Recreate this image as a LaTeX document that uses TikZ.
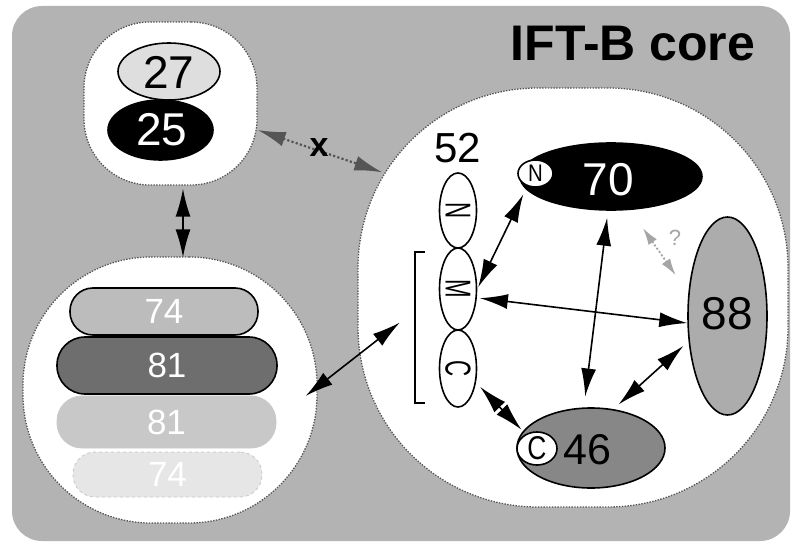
\documentclass[tikz,border=0pt]{standalone}
\usepackage{fontspec}
\usepackage{graphicx}
\setmainfont{Liberation Sans}
\usetikzlibrary{shapes.geometric,arrows.meta,calc}

\definecolor{panel}{RGB}{179,179,179}
\definecolor{rimgray}{RGB}{85,85,85}
\definecolor{xgray}{RGB}{85,85,85}
\definecolor{qgray}{RGB}{165,165,165}
\definecolor{fill27}{RGB}{222,222,222}
\definecolor{fill88}{RGB}{172,172,172}
\definecolor{fill46}{RGB}{135,135,135}
\definecolor{pillA}{RGB}{188,188,188}
\definecolor{pillB}{RGB}{110,110,110}
\definecolor{pillC}{RGB}{200,200,200}
\definecolor{pillD}{RGB}{230,230,230}

\newcommand\fsz[1]{\fontsize{#1}{#1}\selectfont}
\newcommand\domlabel[1]{\rotatebox{-90}{\scalebox{0.62}[1]{#1}}}

\tikzset{
  blob/.style={rectangle, draw=rimgray, fill=white, line width=1.3pt,
    dash pattern=on 1.4pt off 1.4pt, inner sep=0pt},
  ell/.style={ellipse, draw=black, line width=1.6pt, inner sep=0pt},
  pill/.style={rectangle, inner sep=0pt, text=white, font=\fsz{35}},
  txt/.style={inner sep=0pt},
  bigtip/.tip={Latex[length=28pt,width=15pt]},
  dbl/.style={line width=1.6pt, bigtip-bigtip},
  xarr/.style={draw=xgray, line width=2.2pt, dash pattern=on 2.2pt off 2.2pt,
    bigtip-bigtip},
  qarr/.style={draw=qgray, line width=1.8pt, dash pattern=on 2pt off 2pt,
    {Latex[length=17pt,width=10pt]}-{Latex[length=17pt,width=10pt]}},
}

\begin{document}
\begin{tikzpicture}[x=1pt,y=-1pt]
\useasboundingbox (0,0) rectangle (792,543);

% grey panel of the complex
\fill[panel, rounded corners=30pt] (12,6) rectangle (790,541);

\node[txt, font=\bfseries\fsz{50}] (title) at (633,44) {IFT-B core};

% sub-complexes
\node[blob, minimum width=173pt, minimum height=163pt, rounded corners=66pt] (topblob) at (170.5,103.5) {};
\node[blob, minimum width=294pt, minimum height=266pt, rounded corners=128pt] (lowblob) at (170,390) {};
\node[blob, minimum width=430pt, minimum height=419pt, rounded corners=180pt] (rblob) at (573,297.5) {};

% IFT25 / IFT27
\node[ell, fill=black, minimum width=105pt, minimum height=60pt] (n25) at (160.5,130) {};
\node[txt, text=white, font=\fsz{46}] (t25) at (162,130) {25};
\node[ell, fill=fill27, minimum width=102pt, minimum height=57pt] (n27) at (169,71.5) {};
\node[txt, font=\fsz{46}] (t27) at (169,72) {27};

% IFT74 / IFT81 dimers
\node[pill, fill=pillD, draw=pillC, line width=0.8pt, dashed, minimum width=189pt, minimum height=45pt, rounded corners=22pt] (p74b) at (167.5,474.5) {74};
\node[pill, fill=pillC, draw=pillC, line width=0.8pt, minimum width=219pt, minimum height=52pt, rounded corners=25pt] (p81b) at (166.5,422) {81};
\node[pill, fill=pillA, draw=black, line width=1.6pt, minimum width=188pt, minimum height=47pt, rounded corners=23pt] (p74a) at (164,311.5) {74};
\node[pill, fill=pillB, draw=black, line width=1.6pt, minimum width=220pt, minimum height=57pt, rounded corners=28pt] (p81a) at (167,365.5) {81};

% IFT52 domains
\node[txt, font=\fsz{42}] (t52) at (458,148) {52};
\node[ell, fill=white, minimum width=37pt, minimum height=75pt, font=\fsz{36}] (n52) at (458,210.5) {\domlabel{N}};
\node[ell, fill=white, minimum width=37pt, minimum height=82pt, font=\fsz{36}] (m52) at (458,289) {\domlabel{M}};
\node[ell, fill=white, minimum width=37pt, minimum height=77pt, font=\fsz{36}] (c52) at (458,368.5) {\domlabel{C}};
\node[txt, minimum width=10pt, minimum height=151pt] (brk) at (420,327.5) {};
\draw[line width=1.6pt] (brk.north east) -- (brk.north west) -- (brk.south west) -- (brk.south east);

% IFT70
\node[ell, fill=black, minimum width=182pt, minimum height=67pt] (n70) at (611,176.5) {};
\node[txt, text=white, font=\fsz{46}] (t70) at (608,180) {70};
\node[ell, fill=white, minimum width=35pt, minimum height=27pt, font=\fsz{24}] (n70N) at (535.5,173.5) {\scalebox{0.85}[1]{N}};

% IFT88
\node[ell, fill=fill88, minimum width=79pt, minimum height=198pt] (n88) at (727.5,316) {};
\node[txt, font=\fsz{46}] (t88) at (727,314) {88};

% IFT46
\node[ell, fill=fill46, minimum width=148pt, minimum height=80pt] (n46) at (591,448) {};
\node[txt, font=\fsz{43}] (t46) at (587,450) {46};
\node[ell, fill=white, minimum width=40pt, minimum height=33pt, font=\fsz{33}] (c46) at (537,448.5) {\scalebox{0.8}[1]{C}};

% interactions
\draw[dbl] ($(topblob.south)+(12.5,3)$) -- ($(lowblob.north)+(13,1)$);
\draw[xarr] ($(topblob.east)+(0,26.5)$) -- ($(rblob.north west)+(25,85)$);
\node[txt, font=\bfseries\fsz{34}] (xl) at (319,148) {x};
\draw[dbl] ($(lowblob.east)+(-12,6)$) -- ($(brk.west)+(-15,-5)$);

\draw[dbl, shorten <=9pt, shorten >=2pt] (n70N.237) -- (m52.east);
\draw[dbl, shorten <=3pt] (m52.-25) -- (n88.190);
\draw[dbl, shorten <=7pt, shorten >=11pt] (n70.265) -- (n46.100);
\draw[dbl, shorten <=7pt, shorten >=7pt] (n88.213) -- (n46.60);
\draw[dbl, shorten <=6pt, shorten >=6pt] (c52.-38) -- (c46.128);
\draw[qarr, shorten <=22pt, shorten >=22pt] (n70.-60) -- (n88.150);
\node[txt, text=qgray, font=\fsz{22}] (q) at (675,238) {?};
\end{tikzpicture}
\end{document}
